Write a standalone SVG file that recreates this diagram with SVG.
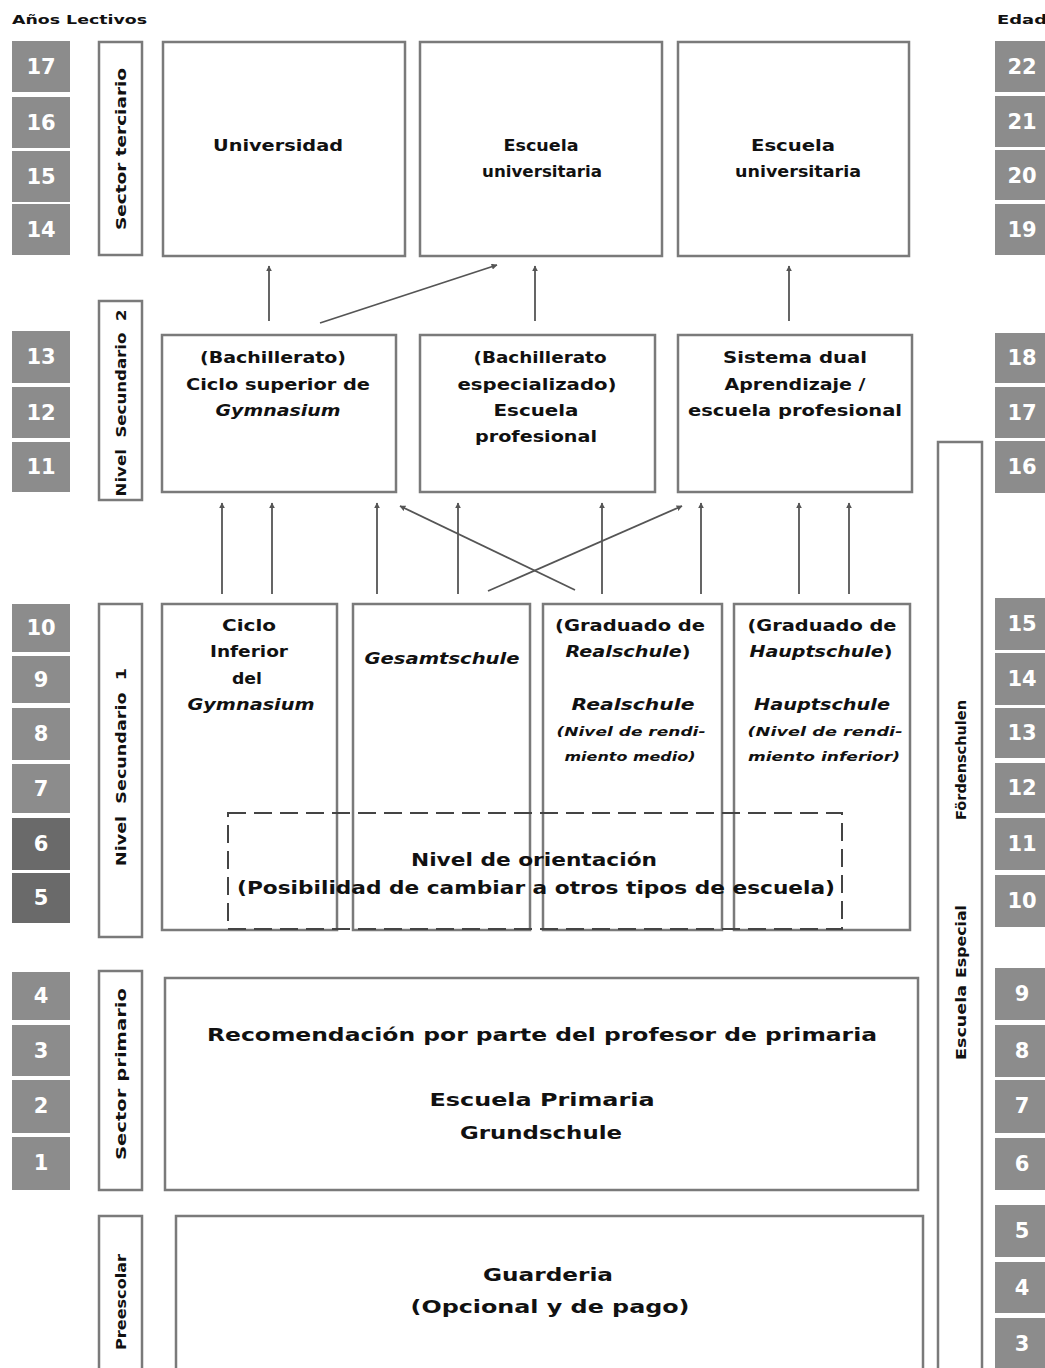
<svg xmlns="http://www.w3.org/2000/svg" width="1045" height="1368" viewBox="0 0 1045 1368">
<style>
text{font-family:"DejaVu Sans","Liberation Sans",sans-serif;font-weight:bold;fill:#111}
.yr{fill:#8c8c8c}
.yrd{fill:#6a6a6a}
.yt{fill:#fff;font-size:21px;text-anchor:middle}
.box{fill:#fff;stroke:#7a7a7a;stroke-width:2.5}
.lbl{font-size:14px;text-anchor:middle}
.t{font-size:16px;text-anchor:middle}
.i{font-style:italic}
.s{font-size:12px;font-style:italic;text-anchor:middle}
.big{font-size:18px;text-anchor:middle}
.ar{stroke:#555;stroke-width:1.8;fill:none;marker-end:url(#ah)}
</style>
<defs>
<marker id="ah" viewBox="0 0 10 10" refX="9" refY="5" markerWidth="6" markerHeight="6" orient="auto" markerUnits="userSpaceOnUse"><path d="M0,0 L10,5 L0,10 z" fill="#555"/></marker>
</defs>
<text x="12" y="24" style="font-size:12px" textLength="135" lengthAdjust="spacingAndGlyphs">Años Lectivos</text>
<text x="997" y="24" style="font-size:12px" textLength="50" lengthAdjust="spacingAndGlyphs">Edad</text>

<g id="years-left">
<rect class="yr" x="12" y="41" width="58" height="51"/><text class="yt" x="41" y="74">17</text>
<rect class="yr" x="12" y="97" width="58" height="51"/><text class="yt" x="41" y="130">16</text>
<rect class="yr" x="12" y="151" width="58" height="51"/><text class="yt" x="41" y="184">15</text>
<rect class="yr" x="12" y="204" width="58" height="51"/><text class="yt" x="41" y="237">14</text>
<rect class="yr" x="12" y="331" width="58" height="52"/><text class="yt" x="41" y="364">13</text>
<rect class="yr" x="12" y="387" width="58" height="51"/><text class="yt" x="41" y="420">12</text>
<rect class="yr" x="12" y="442" width="58" height="50"/><text class="yt" x="41" y="474">11</text>
<rect class="yr" x="12" y="604" width="58" height="48"/><text class="yt" x="41" y="635">10</text>
<rect class="yr" x="12" y="656" width="58" height="47"/><text class="yt" x="41" y="687">9</text>
<rect class="yr" x="12" y="708" width="58" height="52"/><text class="yt" x="41" y="741">8</text>
<rect class="yr" x="12" y="764" width="58" height="49"/><text class="yt" x="41" y="796">7</text>
<rect class="yrd" x="12" y="818" width="58" height="52"/><text class="yt" x="41" y="851">6</text>
<rect class="yrd" x="12" y="873" width="58" height="50"/><text class="yt" x="41" y="905">5</text>
<rect class="yr" x="12" y="972" width="58" height="48"/><text class="yt" x="41" y="1003">4</text>
<rect class="yr" x="12" y="1025" width="58" height="51"/><text class="yt" x="41" y="1058">3</text>
<rect class="yr" x="12" y="1080" width="58" height="53"/><text class="yt" x="41" y="1113">2</text>
<rect class="yr" x="12" y="1137" width="58" height="53"/><text class="yt" x="41" y="1170">1</text>
</g>

<g id="years-right">
<rect class="yr" x="995" y="41" width="60" height="51"/><text class="yt" x="1022" y="74">22</text>
<rect class="yr" x="995" y="96" width="60" height="51"/><text class="yt" x="1022" y="129">21</text>
<rect class="yr" x="995" y="150" width="60" height="50"/><text class="yt" x="1022" y="183">20</text>
<rect class="yr" x="995" y="204" width="60" height="51"/><text class="yt" x="1022" y="237">19</text>
<rect class="yr" x="995" y="333" width="60" height="50"/><text class="yt" x="1022" y="365">18</text>
<rect class="yr" x="995" y="387" width="60" height="51"/><text class="yt" x="1022" y="420">17</text>
<rect class="yr" x="995" y="441" width="60" height="52"/><text class="yt" x="1022" y="474">16</text>
<rect class="yr" x="995" y="598" width="60" height="52"/><text class="yt" x="1022" y="631">15</text>
<rect class="yr" x="995" y="653" width="60" height="52"/><text class="yt" x="1022" y="686">14</text>
<rect class="yr" x="995" y="708" width="60" height="50"/><text class="yt" x="1022" y="740">13</text>
<rect class="yr" x="995" y="763" width="60" height="50"/><text class="yt" x="1022" y="795">12</text>
<rect class="yr" x="995" y="818" width="60" height="52"/><text class="yt" x="1022" y="851">11</text>
<rect class="yr" x="995" y="875" width="60" height="52"/><text class="yt" x="1022" y="908">10</text>
<rect class="yr" x="995" y="968" width="60" height="52"/><text class="yt" x="1022" y="1001">9</text>
<rect class="yr" x="995" y="1025" width="60" height="52"/><text class="yt" x="1022" y="1058">8</text>
<rect class="yr" x="995" y="1080" width="60" height="53"/><text class="yt" x="1022" y="1113">7</text>
<rect class="yr" x="995" y="1138" width="60" height="52"/><text class="yt" x="1022" y="1171">6</text>
<rect class="yr" x="995" y="1205" width="60" height="52"/><text class="yt" x="1022" y="1238">5</text>
<rect class="yr" x="995" y="1262" width="60" height="51"/><text class="yt" x="1022" y="1295">4</text>
<rect class="yr" x="995" y="1318" width="60" height="55"/><text class="yt" x="1022" y="1351">3</text>
</g>

<g id="label-terciario"><rect class="box" x="99" y="42" width="43" height="213"/><text class="lbl" transform="translate(126,149) rotate(-90)" textLength="162" lengthAdjust="spacingAndGlyphs">Sector terciario</text></g>
<g id="label-sec2"><rect class="box" x="99" y="301" width="43" height="199"/><text class="lbl" transform="translate(126,403) rotate(-90)" textLength="187" lengthAdjust="spacingAndGlyphs" xml:space="preserve">Nivel  Secundario  2</text></g>
<g id="label-sec1"><rect class="box" x="99" y="604" width="43" height="333"/><text class="lbl" transform="translate(126,767) rotate(-90)" textLength="198" lengthAdjust="spacingAndGlyphs" xml:space="preserve">Nivel  Secundario  1</text></g>
<g id="label-primario"><rect class="box" x="99" y="971" width="43" height="219"/><text class="lbl" transform="translate(126,1074) rotate(-90)" textLength="172" lengthAdjust="spacingAndGlyphs">Sector primario</text></g>
<g id="label-preescolar"><rect class="box" x="99" y="1216" width="43" height="160"/><text class="lbl" transform="translate(126,1302) rotate(-90)" textLength="96" lengthAdjust="spacingAndGlyphs">Preescolar</text></g>

<g id="universidad"><rect class="box" x="163" y="42" width="242" height="214"/><text class="t" x="278" y="151" textLength="130" lengthAdjust="spacingAndGlyphs">Universidad</text></g>
<g id="escuela-univ-1"><rect class="box" x="420" y="42" width="242" height="214"/><text class="t" x="541" y="151" textLength="75" lengthAdjust="spacingAndGlyphs">Escuela</text><text class="t" x="542" y="177" textLength="120" lengthAdjust="spacingAndGlyphs">universitaria</text></g>
<g id="escuela-univ-2"><rect class="box" x="678" y="42" width="231" height="214"/><text class="t" x="793" y="151" textLength="84" lengthAdjust="spacingAndGlyphs">Escuela</text><text class="t" x="798" y="177" textLength="126" lengthAdjust="spacingAndGlyphs">universitaria</text></g>

<g id="bachillerato"><rect class="box" x="162" y="335" width="234" height="157"/><text class="t" x="273" y="363" textLength="146" lengthAdjust="spacingAndGlyphs">(Bachillerato)</text><text class="t" x="278" y="390" textLength="184" lengthAdjust="spacingAndGlyphs">Ciclo superior de</text><text class="t i" x="278" y="416" textLength="125" lengthAdjust="spacingAndGlyphs">Gymnasium</text></g>
<g id="bach-especializado"><rect class="box" x="420" y="335" width="235" height="157"/><text class="t" x="540" y="363" textLength="133" lengthAdjust="spacingAndGlyphs">(Bachillerato</text><text class="t" x="537" y="390" textLength="159" lengthAdjust="spacingAndGlyphs">especializado)</text><text class="t" x="536" y="416" textLength="85" lengthAdjust="spacingAndGlyphs">Escuela</text><text class="t" x="536" y="442" textLength="122" lengthAdjust="spacingAndGlyphs">profesional</text></g>
<g id="sistema-dual"><rect class="box" x="678" y="335" width="234" height="157"/><text class="t" x="795" y="363" textLength="144" lengthAdjust="spacingAndGlyphs">Sistema dual</text><text class="t" x="795" y="390" textLength="141" lengthAdjust="spacingAndGlyphs">Aprendizaje /</text><text class="t" x="795" y="416" textLength="214" lengthAdjust="spacingAndGlyphs">escuela profesional</text></g>

<g id="ciclo-inferior"><rect class="box" x="162" y="604" width="175" height="326"/><text class="t" x="249" y="631" textLength="54" lengthAdjust="spacingAndGlyphs">Ciclo</text><text class="t" x="249" y="657" textLength="78" lengthAdjust="spacingAndGlyphs">Inferior</text><text class="t" x="247" y="684" textLength="30" lengthAdjust="spacingAndGlyphs">del</text><text class="t i" x="251" y="710" textLength="127" lengthAdjust="spacingAndGlyphs">Gymnasium</text></g>
<g id="gesamtschule"><rect class="box" x="353" y="604" width="177" height="326"/><text class="t i" x="442" y="664" textLength="155" lengthAdjust="spacingAndGlyphs">Gesamtschule</text></g>
<g id="realschule"><rect class="box" x="543" y="604" width="179" height="326"/><text class="t" x="630" y="631" textLength="150" lengthAdjust="spacingAndGlyphs">(Graduado de</text><text class="t" x="628" y="657" textLength="125" lengthAdjust="spacingAndGlyphs"><tspan font-style="italic">Realschule</tspan>)</text><text class="t i" x="633" y="710" textLength="123" lengthAdjust="spacingAndGlyphs">Realschule</text><text class="s" x="631" y="736" textLength="149" lengthAdjust="spacingAndGlyphs">(Nivel de rendi-</text><text class="s" x="630" y="761" textLength="131" lengthAdjust="spacingAndGlyphs">miento medio)</text></g>
<g id="hauptschule"><rect class="box" x="734" y="604" width="176" height="326"/><text class="t" x="822" y="631" textLength="149" lengthAdjust="spacingAndGlyphs">(Graduado de</text><text class="t" x="821" y="657" textLength="143" lengthAdjust="spacingAndGlyphs"><tspan font-style="italic">Hauptschule</tspan>)</text><text class="t i" x="822" y="710" textLength="136" lengthAdjust="spacingAndGlyphs">Hauptschule</text><text class="s" x="825" y="736" textLength="155" lengthAdjust="spacingAndGlyphs">(Nivel de rendi-</text><text class="s" x="824" y="761" textLength="152" lengthAdjust="spacingAndGlyphs">miento inferior)</text></g>

<g id="orientacion"><rect x="228" y="813" width="614" height="116" fill="none" stroke="#444" stroke-width="2" stroke-dasharray="18,8"/><text class="t" x="534" y="866" style="font-size:17px" textLength="246" lengthAdjust="spacingAndGlyphs">Nivel de orientación</text><text class="t" x="536" y="894" style="font-size:17px" textLength="598" lengthAdjust="spacingAndGlyphs">(Posibilidad de cambiar a otros tipos de escuela)</text></g>

<g id="escuela-especial"><rect class="box" x="938" y="442" width="44" height="940"/><text class="lbl" transform="translate(966,0) rotate(-90)" style="text-anchor:start"><tspan x="-1060" textLength="75" lengthAdjust="spacingAndGlyphs">Escuela</tspan><tspan x="-978" textLength="73" lengthAdjust="spacingAndGlyphs">Especial</tspan><tspan x="-820" textLength="120" lengthAdjust="spacingAndGlyphs">Fördenschulen</tspan></text></g>

<g id="primaria"><rect class="box" x="165" y="978" width="753" height="212"/><text class="big" x="542" y="1041" textLength="670" lengthAdjust="spacingAndGlyphs">Recomendación por parte del profesor de primaria</text><text class="big" x="542" y="1106" textLength="225" lengthAdjust="spacingAndGlyphs">Escuela Primaria</text><text class="big" x="541" y="1139" textLength="162" lengthAdjust="spacingAndGlyphs">Grundschule</text></g>
<g id="guarderia"><rect class="box" x="176" y="1216" width="747" height="165"/><text class="big" x="548" y="1281" textLength="130" lengthAdjust="spacingAndGlyphs">Guarderia</text><text class="big" x="550" y="1313" textLength="279" lengthAdjust="spacingAndGlyphs">(Opcional y de pago)</text></g>

<g id="connectors">
<line class="ar" x1="269" y1="321" x2="269" y2="266"/>
<line class="ar" x1="320" y1="323" x2="497" y2="265"/>
<line class="ar" x1="535" y1="321" x2="535" y2="266"/>
<line class="ar" x1="789" y1="321" x2="789" y2="266"/>
<line class="ar" x1="222" y1="594" x2="222" y2="503"/>
<line class="ar" x1="272" y1="594" x2="272" y2="503"/>
<line class="ar" x1="377" y1="594" x2="377" y2="503"/>
<line class="ar" x1="458" y1="594" x2="458" y2="503"/>
<line class="ar" x1="602" y1="594" x2="602" y2="503"/>
<line class="ar" x1="701" y1="594" x2="701" y2="503"/>
<line class="ar" x1="799" y1="594" x2="799" y2="503"/>
<line class="ar" x1="849" y1="594" x2="849" y2="503"/>
<line class="ar" x1="575" y1="590" x2="400" y2="506"/>
<line class="ar" x1="488" y1="591" x2="682" y2="506"/>
</g>
</svg>
